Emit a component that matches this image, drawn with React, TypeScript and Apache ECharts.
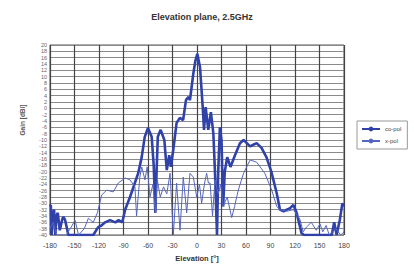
import React, { useEffect, useRef } from "react";
import * as echarts from "echarts";

const title = "Elevation plane, 2.5GHz";
const xName = "Elevation [°]";
const yName = "Gain [dBi]";
const seriesNames = ["co-pol", "x-pol"];

// [elevation deg, gain dBi]
const coPol: [number, number][] = [
  [-180, -31], [-179, -30.5], [-178, -40], [-176.5, -33], [-175, -32], [-173.5, -40], [-172, -34],
  [-170.5, -33], [-168, -38.5], [-165, -35], [-163.5, -34.3], [-161.5, -35.3], [-157.5, -40],
  [-127, -40], [-121, -37.5], [-117, -37], [-112.5, -36], [-106.5, -35.3], [-100, -36], [-96, -35.3],
  [-91.5, -36], [-88, -32], [-82, -28], [-78, -25], [-72, -20.5], [-67.7, -15.4], [-64, -9],
  [-60, -6.2], [-55.5, -9], [-53, -18], [-51, -33], [-49.5, -20], [-48, -9], [-44.5, -6.8],
  [-40, -10], [-37, -19.5], [-34, -14.8], [-32, -18.5], [-29, -13], [-25, -4.6], [-21, -3],
  [-17, -3.7], [-13.5, 2.6], [-10.6, 3.6], [-8.6, 2.6], [-4.5, 11], [-2, 15], [0.4, 17.2],
  [3.7, 13], [7, 0.4], [8.6, -6.8], [10.6, 0.4], [13.8, -6.8], [17, -1.2], [20, -7.8], [22, -20],
  [24.5, -40], [26, -20], [28, -6], [30, -10], [32, -31], [34, -20], [37, -15.4], [41, -18.5],
  [46.5, -14.8], [52.6, -11], [57, -10], [61, -11], [65, -12], [69, -11.5], [73, -11], [79, -12.5],
  [85, -15.4], [91, -20], [97.6, -26.8], [101.6, -32], [106, -32.5], [110, -32], [114, -31.5],
  [118, -30.5], [122, -33], [128, -39.4], [131, -40], [165, -40], [168, -36], [171, -40],
  [175, -35], [178, -30], [180, -31],
];

const xPol: [number, number][] = [
  [-180, -38], [-176, -36], [-172, -40], [-160, -40], [-154, -37.5], [-149.4, -35.3], [-145, -40],
  [-138, -38], [-133, -34.7], [-127, -36], [-122, -33], [-116.7, -27.4], [-110.6, -25.8],
  [-102.5, -26.4], [-96.4, -23.6], [-88, -22], [-82, -22.6], [-76, -24.8], [-74, -34], [-70, -21.7],
  [-67.7, -18.5], [-63.7, -22.6], [-61, -18.5], [-57.6, -28], [-54, -24], [-51, -33], [-48.6, -22.6],
  [-45, -28], [-41, -24.8], [-37, -27], [-33, -20.5], [-29, -40], [-25, -23.6], [-20.8, -38.5],
  [-16.8, -21.7], [-12.6, -33], [-8.6, -20.5], [-4.5, -21.7], [-0.4, -28], [3, -24], [5.7, -30],
  [9, -24], [11.8, -20.5], [14, -23.6], [16, -23.6], [19, -34], [22, -22.6], [26, -27], [29, -24],
  [32, -31], [37, -28], [42.5, -34.5], [46, -31], [50.6, -25.8], [57, -20.5], [65, -16.3],
  [73, -17], [83, -20.5], [91.5, -25.8], [97.6, -31], [101.6, -32], [110, -32.5], [118, -32],
  [122, -33.5], [126, -35], [130, -39], [134, -37.5], [140, -36], [146, -38.5], [150.6, -36.5],
  [154, -39], [158, -37], [162, -40], [170, -38], [176, -40], [180, -39],
];

const xMin = -180, xMax = 180, xStep = 30;
const yMin = -40, yMax = 20, yStep = 2;

export default function App() {
  const ref = useRef<HTMLDivElement>(null);
  useEffect(() => {
    if (!ref.current) return;
    const chart = echarts.init(ref.current, null, { renderer: "svg" });
    chart.setOption({
      animation: false,
      backgroundColor: "#ffffff",
      textStyle: { fontFamily: "Liberation Sans, Arial, sans-serif" },
      title: {
        text: title,
        left: 197,
        textAlign: "center",
        top: 7,
        textStyle: { fontSize: 9, fontWeight: "bold", color: "#333" },
      },
      grid: { left: 50, right: 70, top: 45, bottom: 38, show: true, borderColor: "#555", borderWidth: 1 },
      legend: {
        orient: "vertical",
        left: 357,
        top: 121,
        data: seriesNames,
        itemWidth: 18,
        itemHeight: 6,
        itemGap: 6,
        padding: [5, 6, 5, 4],
        borderColor: "#999",
        borderWidth: 1,
        textStyle: { fontSize: 6, color: "#444" },
      },
      xAxis: {
        type: "value",
        min: xMin,
        max: xMax,
        interval: xStep,
        name: xName,
        nameLocation: "middle",
        nameGap: 19,
        nameTextStyle: { fontSize: 7.5, fontWeight: "bold", color: "#333" },
        axisLine: { show: false },
        axisTick: { show: false },
        axisLabel: { fontSize: 7, color: "#444", margin: 7 },
        splitLine: { show: true, lineStyle: { color: "#444", width: 1.2 } },
      },
      yAxis: {
        type: "value",
        min: yMin,
        max: yMax,
        interval: yStep,
        axisLine: { show: false },
        axisTick: { show: false },
        axisLabel: { fontSize: 5.5, color: "#666", margin: 3 },
        splitLine: { show: true, lineStyle: { color: "#8a8a8a", width: 1.2 } },
      },
      graphic: [
        {
          type: "text",
          x: 22,
          y: 120,
          rotation: Math.PI / 2,
          style: {
            text: yName,
            fontSize: 6.5,
            fontWeight: "bold",
            fill: "#555",
            align: "center",
            verticalAlign: "middle",
          },
        },
      ],
      series: [
        {
          name: seriesNames[0],
          type: "line",
          data: coPol,
          symbol: "none",
          lineStyle: { color: "#3042AA", width: 2.6 },
          itemStyle: { color: "#3042AA" },
        },
        {
          name: seriesNames[1],
          type: "line",
          data: xPol,
          symbol: "none",
          lineStyle: { color: "#5566BE", width: 1 },
          itemStyle: { color: "#5566BE" },
        },
      ],
    });
    return () => chart.dispose();
  }, []);
  return <div ref={ref} style={{ width: 414, height: 273, position: "fixed", left: 0, top: 0 }} />;
}
